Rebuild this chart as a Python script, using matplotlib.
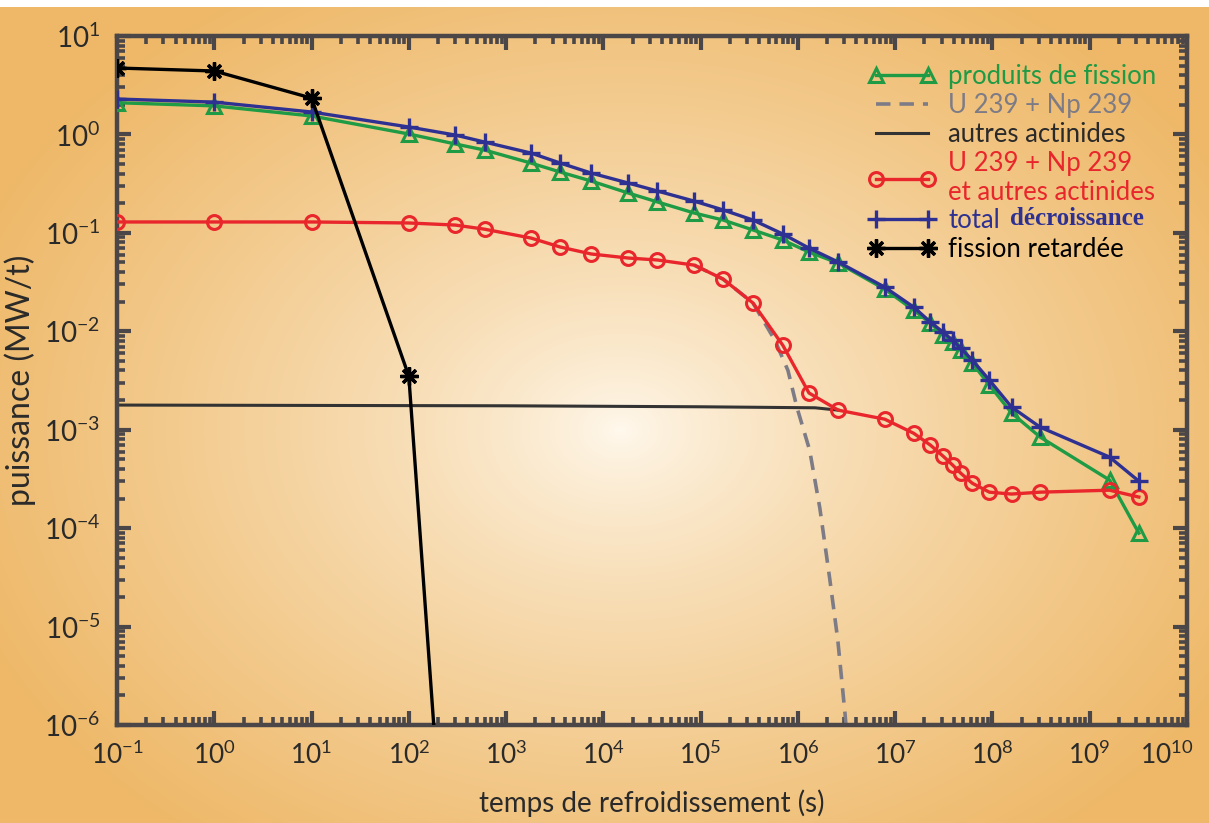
import matplotlib
matplotlib.use("Agg")
import matplotlib.pyplot as plt
import matplotlib.transforms as mtransforms
import numpy as np

plt.rcParams["font.family"] = ["Lato", "DejaVu Sans"]
plt.rcParams["mathtext.default"] = "regular"
plt.rcParams["axes.unicode_minus"] = False

# cooling time (s)
t = [0.1, 1, 10, 100, 300, 600, 1.8e3, 3.6e3, 7.5e3, 1.8e4, 3.6e4, 8.6e4,
     1.7e5, 3.45e5, 7.0e5, 1.3e6, 2.6e6, 7.8e6, 1.55e7, 2.3e7, 3.1e7, 3.9e7,
     4.7e7, 6.2e7, 9.3e7, 1.57e8, 3.1e8, 1.6e9, 3.2e9]

# power (MW/t)
fission_products = [2.10, 1.95, 1.54, 1.01, 0.80, 0.694, 0.512, 0.415, 0.336,
                    0.254, 0.206, 0.159, 0.135, 0.107, 0.0845, 0.0638, 0.0493,
                    0.0268, 0.0164, 0.0121, 0.00915, 0.00776, 0.00644, 0.00475,
                    0.00284, 0.00148, 0.00084, 3.08e-4, 8.9e-5]
total = [2.29, 2.13, 1.69, 1.19, 0.986, 0.837, 0.647, 0.512, 0.405, 0.321,
         0.266, 0.21, 0.171, 0.135, 0.0973, 0.070, 0.0505, 0.0281, 0.0176,
         0.0124, 0.0098, 0.0081, 0.00675, 0.0051, 0.00319, 0.0017, 0.00106,
         5.27e-4, 3.0e-4]
actinides_all = [0.129, 0.129, 0.129, 0.126, 0.120, 0.109, 0.0886, 0.0718,
                 0.061, 0.0555, 0.053, 0.047, 0.0339, 0.0194, 0.0072, 2.36e-3,
                 1.58e-3, 1.28e-3, 9.2e-4, 6.98e-4, 5.4e-4, 4.37e-4, 3.63e-4,
                 2.86e-4, 2.32e-4, 2.22e-4, 2.32e-4, 2.43e-4, 2.07e-4]

# U 239 + Np 239 alone (hidden under the red curve before ~2e5 s)
t_u239 = [8.6e4, 1.7e5, 3.45e5, 5.8e5, 7.9e5, 9.75e5, 1.32e6, 1.68e6, 2.13e6,
          2.57e6, 3.05e6, 3.3e6]
u239 = [0.047, 0.0339, 0.0194, 8.1e-3, 4.0e-3, 1.7e-3, 6.2e-4, 1.6e-4, 3.0e-5,
        7.3e-6, 1.3e-6, 5e-7]

# other actinides
t_other = [0.1, 1e3, 1e5, 1.5e6, 2.6e6]
other = [1.78e-3, 1.75e-3, 1.71e-3, 1.67e-3, 1.58e-3]

# delayed fission
t_delayed = [0.1, 1, 10, 100, 200]
delayed = [4.73, 4.41, 2.34, 3.5e-3, 2.4e-7]

GREEN = "#1f9a45"
GREY = "#7d7b86"
RED = "#e8262b"
BLUE = "#2e3192"
FRAME = "#4b4748"
TEXT = "#2a2a2a"

fig = plt.figure(figsize=(12.09, 8.23), dpi=100)

# warm radial background
bg = fig.add_axes([0, 0, 1, 1], zorder=-10)
yy, xx = np.mgrid[0:823, 0:1209]
r = np.sqrt(((xx - 620) / 700.0) ** 2 + ((yy - 430) / 520.0) ** 2).clip(0, 1) ** 0.75
inner = np.array([255, 249, 238]) / 255
outer = np.array([238, 184, 104]) / 255
img = inner * (1 - r[..., None]) + outer * r[..., None]
img[:7] = 1.0
bg.imshow(img, aspect="auto", interpolation="bilinear")
bg.axis("off")

ax = fig.add_axes([117 / 1209, 1 - 725 / 823, (1187 - 117) / 1209, (725 - 36) / 823])
ax.set_facecolor("none")
ax.set_xscale("log")
ax.set_yscale("log")
ax.set_xlim(0.1, 1e10)
ax.set_ylim(1e-6, 10)

ax.plot(t_other, other, color="#333333", lw=2.2, label="autres actinides", zorder=2)
ax.plot(t_u239, u239, color=GREY, lw=2.6, dashes=(4, 2.5), label="U 239 + Np 239", zorder=2)
ax.plot(t, fission_products, color=GREEN, lw=2.4, marker="^", ms=10, mfc="none",
        mew=2.2, label="produits de fission", zorder=3)
ax.plot(t, actinides_all, color=RED, lw=2.4, marker="o", ms=10, mfc="none", mew=2.2,
        label="U 239 + Np 239\net autres actinides", zorder=3)
ax.plot(t, total, color=BLUE, lw=2.4, marker="+", ms=13, mew=2.4,
        label="total", zorder=4)
ax.plot(t_delayed, delayed, color="black", lw=2.4, marker=(8, 2, 0), ms=13, mew=2.4,
        label="fission retardée", zorder=5)

for s in ax.spines.values():
    s.set_linewidth(3.2)
    s.set_color(FRAME)
ax.tick_params(which="both", direction="in", top=True, right=True, color=FRAME)
ax.tick_params(which="major", length=10, width=3)
ax.tick_params(which="minor", length=6, width=2.6)
ax.tick_params(axis="x", which="major", labelsize=19, pad=12)
ax.tick_params(axis="y", which="major", labelsize=20, pad=12)
ax.set_xticks([10.0 ** k for k in range(-1, 11)])
ax.set_yticks([10.0 ** k for k in range(-6, 2)])
ax.xaxis.set_minor_locator(matplotlib.ticker.LogLocator(base=10, subs=np.arange(2, 10), numticks=20))
ax.yaxis.set_minor_locator(matplotlib.ticker.LogLocator(base=10, subs=np.arange(2, 10), numticks=20))
ax.xaxis.set_minor_formatter(matplotlib.ticker.NullFormatter())
ax.yaxis.set_minor_formatter(matplotlib.ticker.NullFormatter())
for lbl in ax.get_xticklabels() + ax.get_yticklabels():
    lbl.set_color(TEXT)
# keep the last x label inside the picture
last = ax.get_xticklabels()[-1]
last.set_transform(last.get_transform() + mtransforms.ScaledTranslation(-0.2, 0, fig.dpi_scale_trans))

ax.set_xlabel("temps de refroidissement (s)", fontsize=20, color=TEXT, labelpad=14)
ax.set_ylabel("puissance (MW/t)", fontsize=23, color=TEXT, labelpad=6)

order = ["produits de fission", "U 239 + Np 239", "autres actinides",
         "U 239 + Np 239\net autres actinides", "total", "fission retardée"]
colors = [GREEN, GREY, TEXT, RED, BLUE, "black"]
handles, labels = ax.get_legend_handles_labels()
hmap = dict(zip(labels, handles))
leg = ax.legend([hmap[k] for k in order], order, loc="upper right",
                bbox_to_anchor=(0.993, 0.993), frameon=False, numpoints=2,
                fontsize=18.5, handlelength=2.6, handletextpad=0.5, labelspacing=0.15)
for txt, c in zip(leg.get_texts(), colors):
    txt.set_color(c)

# second half of the "total" entry is set in a bold serif face
fig.canvas.draw()
bb = leg.get_texts()[4].get_window_extent()
fig.text(bb.x1 + 10, bb.y0 + 3, "décroissance", transform=None, fontsize=18,
         color=BLUE, fontweight="bold", family=["Liberation Serif", "DejaVu Serif"],
         va="bottom", ha="left")

fig.savefig("out.png", dpi=100)
